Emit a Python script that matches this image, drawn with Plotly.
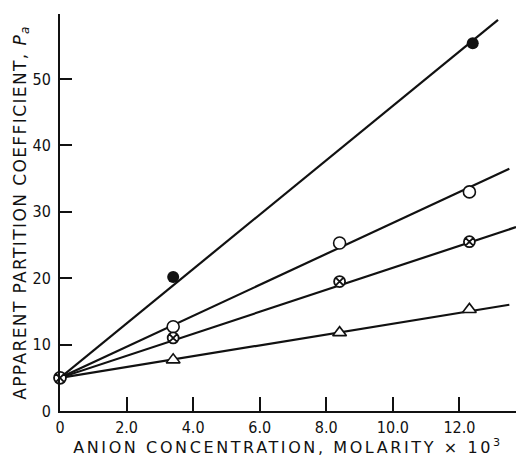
import plotly.graph_objects as go

# Data
conc_x = [3.4, 8.4, 12.3]                 # anion concentration, molarity x 10^3
filled_x = [3.4, 12.4]                    # filled circles
filled_y = [20.2, 55.4]
open_y = [12.7, 25.3, 33.0]               # open circles
crossed_y = [11.0, 19.5, 25.5]            # crossed circles
triangle_y = [7.7, 11.8, 15.3]            # open triangles
origin_x = [0.0]                          # common starting point
origin_y = [5.0]

# Straight fitted lines: start at the common intercept, end where drawn
line_start_x = 0.0
line_start_y = 5.0
line_ends_x = {"filled": 13.16, "open": 13.5, "crossed": 13.7, "triangle": 13.5}
line_ends_y = {"filled": 58.9, "open": 36.5, "crossed": 27.7, "triangle": 16.0}

x_ticks = [0, 2, 4, 6, 8, 10, 12]
x_ticklabels = ["0", "2.0", "4.0", "6.0", "8.0", "10.0", "12.0"]
y_ticks = [0, 10, 20, 30, 40, 50]
y_ticklabels = ["0", "10", "20", "30", "40", "50"]

INK = "#111111"
TICKFONT = dict(family="DejaVu Sans Condensed, Liberation Sans Narrow, Liberation Sans, Arial",
                size=16, color=INK)
XTITLEFONT = dict(family="DejaVu Sans, Liberation Sans, Arial", size=16, color=INK)
YTITLEFONT = dict(family="DejaVu Sans, Liberation Sans, Arial", size=17, color=INK)

fig = go.Figure()

for key in ["filled", "open", "crossed", "triangle"]:
    fig.add_trace(go.Scatter(
        x=[line_start_x, line_ends_x[key]],
        y=[line_start_y, line_ends_y[key]],
        mode="lines", line=dict(color=INK, width=2.2),
        showlegend=False, hoverinfo="skip"))

fig.add_trace(go.Scatter(x=filled_x, y=filled_y, mode="markers",
                         marker=dict(symbol="circle", size=12, color=INK),
                         showlegend=False))
fig.add_trace(go.Scatter(x=conc_x, y=open_y, mode="markers",
                         marker=dict(symbol="circle", size=12, color="white",
                                     line=dict(color=INK, width=1.6)),
                         showlegend=False))
fig.add_trace(go.Scatter(x=conc_x, y=crossed_y, mode="markers",
                         marker=dict(symbol="circle-x", size=11, color="white",
                                     line=dict(color=INK, width=1.8)),
                         showlegend=False))
fig.add_trace(go.Scatter(x=conc_x, y=triangle_y, mode="markers",
                         marker=dict(symbol="triangle-up", size=12, color="white",
                                     line=dict(color=INK, width=1.6)),
                         showlegend=False))
fig.add_trace(go.Scatter(x=origin_x, y=origin_y, mode="markers",
                         marker=dict(symbol="circle-x", size=12, color="white",
                                     line=dict(color=INK, width=1.8)),
                         showlegend=False, cliponaxis=False))

fig.update_layout(
    width=516, height=457,
    margin=dict(l=60, r=0, t=14, b=46),
    paper_bgcolor="white", plot_bgcolor="white",
    xaxis=dict(
        range=[0, 13.7], tickvals=x_ticks, ticktext=x_ticklabels,
        showgrid=False, zeroline=False,
        showline=True, linecolor=INK, linewidth=2,
        ticks="inside", ticklen=14, tickwidth=1.5, tickcolor=INK,
        tickfont=TICKFONT, ticklabelstandoff=1,
        title=dict(text="ANION CONCENTRATION, MOLARITY \u00d7 10<sup>3</sup>",
                   font=XTITLEFONT, standoff=8),
        automargin=False,
    ),
    yaxis=dict(
        range=[0, 59.8], tickvals=y_ticks, ticktext=y_ticklabels,
        showgrid=False, zeroline=False,
        showline=True, linecolor=INK, linewidth=2,
        ticks="inside", ticklen=12, tickwidth=2, tickcolor=INK,
        tickfont=TICKFONT, ticklabelstandoff=4,
        title=dict(text="APPARENT PARTITION COEFFICIENT, <i>P<sub>a</sub></i>",
                   font=YTITLEFONT, standoff=1),
        automargin=False,
    ),
)

post = """
document.body.style.margin = '0';
document.querySelectorAll('.xtitle').forEach(function(e){ e.style.letterSpacing = '2.6px'; });
document.querySelectorAll('.ytitle').forEach(function(e){ e.style.letterSpacing = '1.4px'; });
"""

fig.write_html("out.html", post_script=post, config={"displayModeBar": False})
